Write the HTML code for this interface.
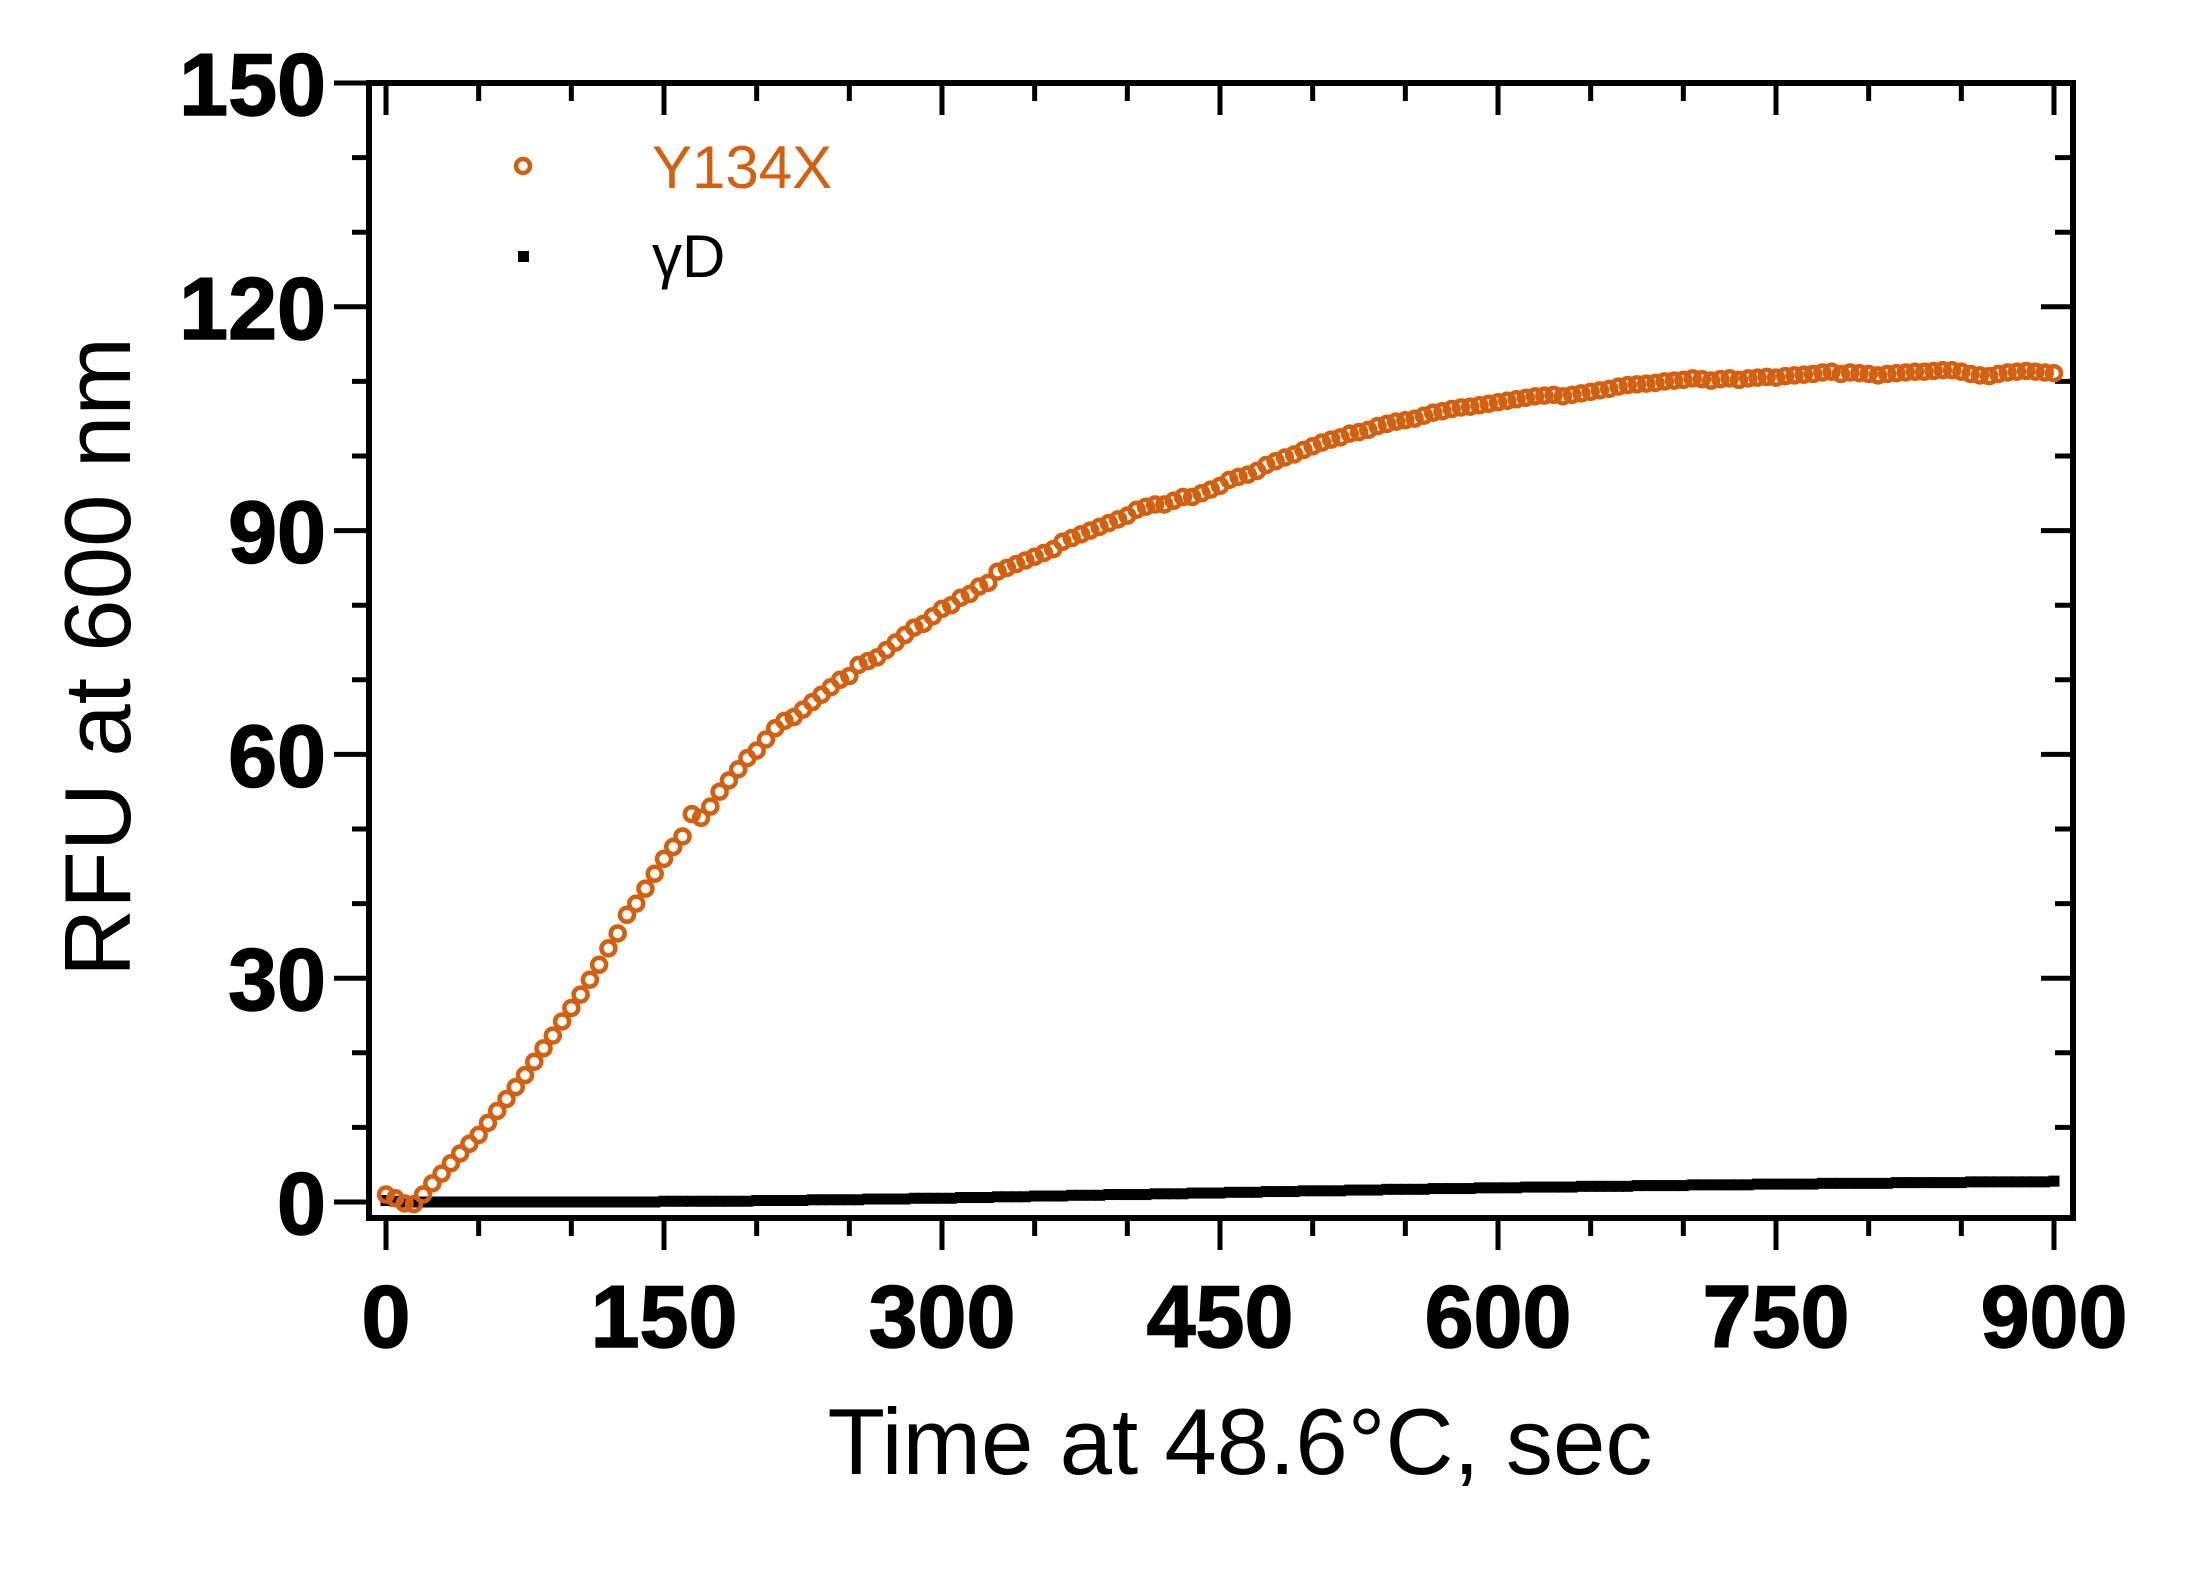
<!DOCTYPE html>
<html><head><meta charset="utf-8"><style>
html,body{margin:0;padding:0;background:#fff;}
svg{display:block;}
text{font-family:"Liberation Sans",Arial,sans-serif;}
</style></head>
<body>
<svg id="chart" width="2200" height="1570" viewBox="0 0 2200 1570" xmlns="http://www.w3.org/2000/svg">
<g id="axes"></g>
<g id="series-gd"></g>
<g id="series-y"></g>
<text x="1240" y="1474" font-size="94" text-anchor="middle" textLength="825" lengthAdjust="spacingAndGlyphs">Time at 48.6°C, sec</text>
<text transform="translate(130,657) rotate(-90)" font-size="94" text-anchor="middle" textLength="640" lengthAdjust="spacingAndGlyphs">RFU at 600 nm</text>
<g>
<circle cx="523" cy="166" r="7" fill="none" stroke="#d4600f" stroke-width="4.5"/>
<text x="652" y="188" font-size="60" fill="#d4600f">Y134X</text>
<rect x="518" y="251" width="11" height="11" fill="#000"/>
<text x="652" y="277" font-size="60" fill="#000">γD</text>
</g>
</svg>
<script>
const xTicks=[0,150,300,450,600,750,900];
const yTicks=[0,30,60,90,120,150];
const tStep=5;
const y134x=[1.0,0.5,-0.2,-0.3,1.0,2.5,3.8,5.2,6.5,7.8,
9.0,10.6,12.2,13.8,15.4,17.0,18.8,20.6,22.3,24.2,
26.0,27.8,29.8,31.8,34.0,36.0,38.5,40.0,42.0,44.0,
46.0,47.6,49.0,52.0,51.5,53.0,55.0,56.5,58.0,59.5,
60.5,62.0,63.5,64.5,65.0,66.0,67.0,68.0,69.0,70.0,
70.5,72.0,72.5,73.0,74.0,75.0,76.0,77.0,77.5,78.5,
79.5,80.0,81.0,81.5,82.5,83.0,84.5,85.0,85.5,86.0,
86.5,87.0,87.5,88.5,89.0,89.5,90.0,90.5,91.0,91.5,
92.0,92.8,93.2,93.5,93.5,94.0,94.5,94.5,95.0,95.5,
96.0,96.8,97.2,97.5,98.0,98.8,99.3,99.8,100.2,100.8,
101.3,101.8,102.2,102.5,103.0,103.2,103.5,104.0,104.3,104.6,
104.8,105.0,105.4,105.8,106.0,106.3,106.5,106.6,106.8,107.0,
107.2,107.4,107.6,107.8,108.0,108.1,108.2,108.0,108.2,108.4,
108.6,108.8,109.0,109.3,109.5,109.6,109.7,109.8,110.0,110.1,
110.2,110.4,110.3,110.1,110.3,110.4,110.2,110.4,110.5,110.6,
110.5,110.7,110.8,110.9,111.0,111.2,111.3,111.0,111.2,111.1,
111.0,110.8,111.0,111.1,111.2,111.3,111.3,111.4,111.5,111.5,
111.3,111.0,110.8,110.7,111.0,111.2,111.3,111.4,111.3,111.2,
111.1];
const gammaD=[0.2,0.1,0,0,0,0,0,0,0,0,
0,0,0,0,0,0,0,0,0,0,
0,0,0,0,0,0,0,0,0,0,
0.1,0.1,0.1,0.1,0.1,0.1,0.1,0.1,0.1,0.1,
0.2,0.2,0.2,0.2,0.2,0.2,0.3,0.3,0.3,0.3,
0.3,0.3,0.4,0.4,0.4,0.4,0.4,0.5,0.5,0.5,
0.5,0.5,0.6,0.6,0.6,0.6,0.7,0.7,0.7,0.7,
0.8,0.8,0.8,0.8,0.9,0.9,0.9,0.9,1.0,1.0,
1.0,1.0,1.0,1.1,1.1,1.1,1.1,1.2,1.2,1.2,
1.2,1.3,1.3,1.3,1.3,1.4,1.4,1.4,1.4,1.5,
1.5,1.5,1.5,1.5,1.6,1.6,1.6,1.6,1.7,1.7,
1.7,1.7,1.7,1.8,1.8,1.8,1.8,1.8,1.9,1.9,
1.9,1.9,1.9,2.0,2.0,2.0,2.0,2.0,2.0,2.1,
2.1,2.1,2.1,2.1,2.1,2.2,2.2,2.2,2.2,2.2,
2.2,2.3,2.3,2.3,2.3,2.3,2.3,2.3,2.4,2.4,
2.4,2.4,2.4,2.4,2.4,2.5,2.5,2.5,2.5,2.5,
2.5,2.5,2.5,2.6,2.6,2.6,2.6,2.6,2.6,2.6,
2.6,2.7,2.7,2.7,2.7,2.7,2.7,2.7,2.7,2.7,
2.8];

const NS='http://www.w3.org/2000/svg';
const X0=386,X1=2054,Y0=1202,Y1=83;
const FL=369,FR=2073,FT=83,FB=1218;
function sx(t){return X0+(t-0)*(X1-X0)/900;}
function sy(v){return Y0-(v-0)*(Y0-Y1)/150;}
function mk(tag,attrs,parent){const e=document.createElementNS(NS,tag);for(const k in attrs)e.setAttribute(k,attrs[k]);parent.appendChild(e);return e;}

const axes=document.getElementById('axes');
const frame=mk('rect',{x:FL,y:FT,width:FR-FL,height:FB-FT,fill:'none',stroke:'#000','stroke-width':6},axes);


for(let v=0;v<=150;v+=10){
  const major=v%30===0;
  const l=mk('line',{x1:major?334:352,x2:FL,y1:sy(v),y2:sy(v),stroke:'#000','stroke-width':5},axes);
  
  
  if(v>0&&v<150){
    const r=mk('line',{x1:FR-(major?32:18),x2:FR,y1:sy(v),y2:sy(v),stroke:'#000','stroke-width':5},axes);
    
    
  }
}
yTicks.forEach(v=>{
  const t=mk('text',{x:326,y:sy(v)+32,'font-size':88,'font-weight':'bold','text-anchor':'end',stroke:'#000','stroke-width':1.5},axes);
  t.textContent=v;
  
  
});
for(let t=0;t<=900;t+=50){
  const major=t%150===0;
  const l=mk('line',{x1:sx(t),x2:sx(t),y1:FB,y2:FB+(major?32:18),stroke:'#000','stroke-width':5},axes);
  
  
  const u=mk('line',{x1:sx(t),x2:sx(t),y1:FT,y2:FT+(major?32:18),stroke:'#000','stroke-width':5},axes);
  
  
}
xTicks.forEach(v=>{
  const t=mk('text',{x:sx(v),y:1347,'font-size':88,'font-weight':'bold','text-anchor':'middle',stroke:'#000','stroke-width':1.5},axes);
  t.textContent=v;
  
  
});
const gd=document.getElementById('series-gd');
gammaD.forEach((v,i)=>{
  const r=mk('rect',{x:sx(i*tStep)-5.5,y:sy(v)-5.5,width:11,height:11,fill:'#000'},gd);
  
  
});
const ys=document.getElementById('series-y');
y134x.forEach((v,i)=>{
  const c=mk('circle',{cx:sx(i*tStep),cy:sy(v),r:7,fill:'none',stroke:'#d4600f','stroke-width':4.5},ys);
  
  
});
</script>
</body></html>
